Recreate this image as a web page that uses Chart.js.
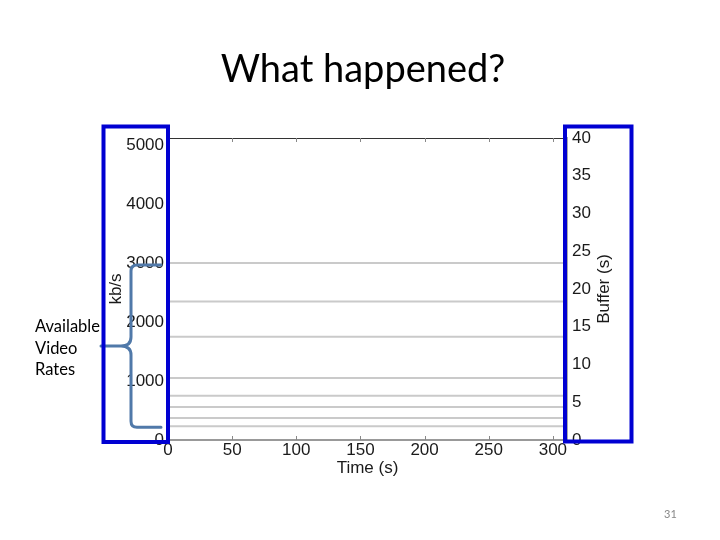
<!DOCTYPE html>
<html>
<head>
<meta charset="utf-8">
<script src="https://cdn.jsdelivr.net/npm/chart.js@4.4.1/dist/chart.umd.min.js"></script>
<style>
  body { margin: 0; background: #fff; }
  #wrap { position: relative; width: 720px; height: 540px; overflow: hidden; }
  #chart { position: absolute; left: 0; top: 0; }
  #title { position: absolute; left: 0; width: 726px; top: 44px; text-align: center;
           font-family: Lato, 'Noto Sans', sans-serif; font-size: 38px; color: #000; }
  #note { position: absolute; left: 35px; top: 316px; font-family: Lato, 'Noto Sans', sans-serif;
          font-size: 16.5px; line-height: 21.5px; color: #000; }
  #page { position: absolute; left: 664px; top: 507px; font-family: Lato, sans-serif;
          font-size: 11px; color: #888; }
</style>
</head>
<body>
<div id="wrap">
  <canvas id="chart" width="720" height="540"></canvas>
  <div id="title">What happened?</div>
  <div id="note">Available<br>Video<br>Rates</div>
  <div id="page">31</div>
</div>
<script>
// Available video rates (kb/s), drawn as flat lines over the whole time axis
const videoRates = [235, 375, 560, 750, 1050, 1750, 2350, 3000];
const timeRange = [0, 311];           // seconds
const timeTicks = [0, 50, 100, 150, 200, 250, 300];
const rateTicks = [0, 1000, 2000, 3000, 4000, 5000];
const bufferTicks = [0, 5, 10, 15, 20, 25, 30, 35, 40];
const rateAxisMax = 5120;             // kb/s
const bufferAxisMax = 40;             // seconds

const tickFont = { family: 'Liberation Sans, Arial, sans-serif', size: 17 };
const asTicks = list => list.map(v => ({ value: v }));

const datasets = videoRates.map(r => ({
    label: r + ' kb/s',
    data: timeRange.map(t => ({ x: t, y: r })),
    borderColor: '#cacaca',
    borderWidth: 2,
    pointRadius: 0,
    yAxisID: 'y'
}));

// slide decorations: brace, blue boxes, inward ticks, right axis title
const slideDecor = {
    id: 'slideDecor',
    afterDraw(chart) {
        const ctx = chart.ctx;
        const a = chart.chartArea;
        const x = chart.scales.x, y = chart.scales.y, y1 = chart.scales.y1;
        ctx.save();

        // top frame line
        ctx.strokeStyle = '#333';
        ctx.lineWidth = 1;
        ctx.beginPath();
        ctx.moveTo(a.left, a.top + 0.5);
        ctx.lineTo(a.right, a.top + 0.5);
        ctx.stroke();

        // inward ticks
        ctx.strokeStyle = '#888';
        timeTicks.forEach(t => {
            const px = Math.round(x.getPixelForValue(t)) + 0.5;
            ctx.beginPath();
            ctx.moveTo(px, a.top); ctx.lineTo(px, a.top + 4);
            ctx.moveTo(px, a.bottom); ctx.lineTo(px, a.bottom - 4);
            ctx.stroke();
        });
        bufferTicks.forEach(v => {
            const py = Math.round(y1.getPixelForValue(v)) + 0.5;
            ctx.beginPath();
            ctx.moveTo(a.right, py); ctx.lineTo(a.right - 4, py);
            ctx.stroke();
        });

        // right axis title, reading bottom to top
        ctx.fillStyle = '#1a1a1a';
        ctx.font = '17px "Liberation Sans", Arial, sans-serif';
        ctx.textAlign = 'center';
        ctx.textBaseline = 'middle';
        ctx.translate(604, (a.top + a.bottom) / 2);
        ctx.rotate(-Math.PI / 2);
        ctx.fillText('Buffer (s)', 0, 0);
        ctx.restore();
        ctx.save();

        // brace spanning the lowest to highest rate
        const yTop = y.getPixelForValue(videoRates[videoRates.length - 1]) + 2;
        const yBot = y.getPixelForValue(videoRates[0]) + 1;
        const mid = (yTop + yBot) / 2;
        const xv = 131, xt = 101, xe = 161;
        ctx.strokeStyle = '#5079a9';
        ctx.lineWidth = 3;
        ctx.lineCap = 'round';
        ctx.lineJoin = 'round';
        ctx.beginPath();
        ctx.moveTo(xe, yTop);
        ctx.lineTo(xv + 6, yTop);
        ctx.quadraticCurveTo(xv, yTop, xv, yTop + 6);
        ctx.lineTo(xv, mid - 9);
        ctx.quadraticCurveTo(xv, mid, xv - 10, mid);
        ctx.lineTo(xt, mid);
        ctx.moveTo(xv - 10, mid);
        ctx.quadraticCurveTo(xv, mid, xv, mid + 9);
        ctx.lineTo(xv, yBot - 6);
        ctx.quadraticCurveTo(xv, yBot, xv + 6, yBot);
        ctx.lineTo(xe, yBot);
        ctx.stroke();

        // blue highlight boxes around both value axes
        ctx.strokeStyle = '#0000d2';
        ctx.lineWidth = 4;
        ctx.lineCap = 'butt';
        ctx.lineJoin = 'miter';
        ctx.strokeRect(103.5, 126.5, 64.5, 315.5);
        ctx.strokeRect(565, 126.5, 66.5, 315);
        ctx.restore();
    }
};

const ctx = document.getElementById('chart').getContext('2d');
const chart = new Chart(ctx, {
    type: 'line',
    data: { datasets: datasets },
    plugins: [slideDecor],
    options: {
        responsive: false,
        animation: false,
        layout: { padding: { left: 100, right: 102, top: 138, bottom: 60 } },
        plugins: { legend: { display: false }, tooltip: { enabled: false } },
        scales: {
            x: {
                type: 'linear',
                min: timeRange[0],
                max: timeRange[1],
                afterFit: s => { s.height = 40; },
                afterBuildTicks: s => { s.ticks = asTicks(timeTicks); },
                grid: { display: false, drawTicks: false },
                border: { display: true, color: '#999', width: 2 },
                ticks: { padding: 2, color: '#1a1a1a', callback: v => String(v),
                         font: Object.assign({ lineHeight: 1.0 }, tickFont) },
                title: { display: true, text: 'Time (s)', color: '#1a1a1a', font: tickFont,
                         padding: { top: 0, bottom: 1 } }
            },
            y: {
                position: 'left',
                min: 0,
                max: rateAxisMax,
                afterFit: s => { s.width = 68; },
                afterBuildTicks: s => { s.ticks = asTicks(rateTicks); },
                grid: { display: false, drawTicks: false },
                border: { display: false },
                ticks: { padding: 4, color: '#1a1a1a', font: tickFont, callback: v => String(v) },
                title: { display: true, text: 'kb/s', color: '#1a1a1a', font: tickFont,
                         padding: { top: 6, bottom: 0 } }
            },
            y1: {
                position: 'right',
                min: 0,
                max: bufferAxisMax,
                afterFit: s => { s.width = 51; },
                afterBuildTicks: s => { s.ticks = asTicks(bufferTicks); },
                grid: { display: false, drawTicks: false },
                border: { display: true, color: '#aaa', width: 2 },
                ticks: { padding: 5, color: '#1a1a1a', font: tickFont, callback: v => String(v) }
            }
        }
    }
});
</script>
</body>
</html>
